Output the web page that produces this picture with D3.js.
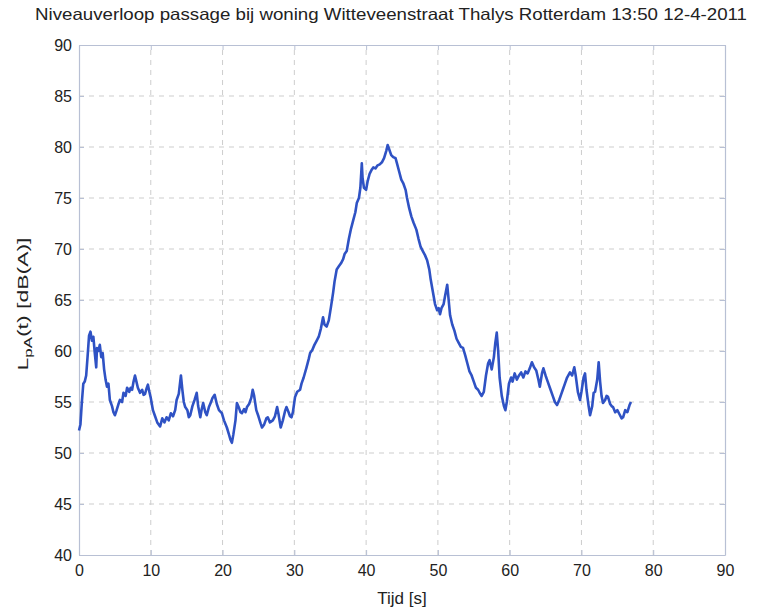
<!DOCTYPE html>
<html>
<head>
<meta charset="utf-8">
<script src="https://cdn.jsdelivr.net/npm/d3@7"></script>
<style>
  html, body { margin: 0; padding: 0; background: #fff; }
  svg { display: block; font-family: "Liberation Sans", Arial, sans-serif; }
</style>
</head>
<body>
<svg id="chart" width="760" height="610"></svg>
<script>
// Sound level during a Thalys pass-by, A-weighted, per time step
const timeS = [
  0.0,0.2,0.4,0.6,0.8,1.0,1.2,1.4,1.6,1.8,2.0,2.2,2.4,2.5,2.7,2.9,3.1,3.3,3.5,3.7,3.9,4.1,4.3,4.6,4.8,
  5.0,5.2,5.5,5.7,6.0,6.2,6.5,6.7,7.0,7.2,7.4,7.6,7.8,8.0,8.2,8.5,8.8,9.0,9.2,9.4,9.6,9.8,
  10.0,10.3,10.6,10.9,11.3,11.6,11.9,12.2,12.5,12.8,13.1,13.4,13.6,13.9,14.2,14.4,14.6,14.8,
  15.1,15.3,15.5,15.8,16.1,16.4,16.6,16.9,17.1,17.3,17.6,17.8,18.1,18.4,18.6,18.9,19.2,19.5,19.9,
  20.2,20.6,20.9,21.1,21.3,21.5,21.8,22.0,22.3,22.5,22.7,23.0,23.2,23.4,23.7,24.0,24.2,24.4,24.7,
  25.0,25.3,25.5,25.8,26.1,26.3,26.6,27.0,27.3,27.6,27.8,28.1,28.4,28.7,28.9,29.2,29.4,29.6,29.8,
  30.1,30.4,30.8,31.0,31.3,31.7,32.0,32.2,32.5,32.8,33.1,33.4,33.7,34.0,34.2,34.5,34.8,
  35.1,35.4,35.6,35.9,36.2,36.5,36.8,37.0,37.3,37.6,37.9,38.2,38.5,38.7,39.0,39.2,39.4,39.5,39.7,
  40.0,40.2,40.5,40.8,41.0,41.3,41.6,41.9,42.2,42.5,42.8,43.0,43.2,43.5,43.8,44.1,44.3,44.6,44.9,
  45.2,45.5,45.7,46.0,46.3,46.6,47.0,47.3,47.6,47.9,48.2,48.5,48.8,49.0,49.3,49.6,49.9,
  50.1,50.3,50.5,50.8,51.0,51.3,51.5,51.7,52.0,52.3,52.6,52.9,53.2,53.5,53.8,54.1,54.4,54.7,
  55.0,55.3,55.6,55.9,56.1,56.4,56.7,57.0,57.2,57.5,57.8,58.0,58.2,58.4,58.6,58.9,59.2,59.4,59.6,59.9,
  60.2,60.4,60.7,61.0,61.3,61.6,61.9,62.2,62.5,62.8,63.1,63.4,63.7,64.0,64.2,64.5,64.7,
  65.0,65.3,65.6,66.0,66.3,66.6,66.9,67.2,67.4,67.7,68.0,68.4,68.7,69.0,69.2,69.5,69.8,
  70.0,70.3,70.5,70.7,71.0,71.2,71.5,71.7,71.9,72.2,72.4,72.6,72.8,73.0,73.3,73.5,73.7,
  74.0,74.2,74.4,74.7,75.0,75.3,75.6,75.8,76.1,76.4,76.7,76.9
];
const levelDbA = [
  52.2,52.8,55.0,56.8,57.0,57.6,59.5,61.5,61.9,61.0,61.4,59.8,58.4,60.3,60.0,60.6,59.4,59.8,58.2,57.2,56.5,56.8,55.2,54.6,54.0,
  53.7,54.1,54.8,55.2,55.0,55.9,55.6,56.4,56.0,56.4,56.2,57.0,57.6,57.0,56.4,55.9,56.2,55.7,55.8,56.3,56.7,56.0,
  55.4,54.2,53.6,53.0,52.6,53.4,53.0,53.5,53.2,53.9,53.6,54.2,55.2,55.8,57.6,56.2,55.0,54.5,
  54.2,53.5,53.7,54.6,55.2,55.9,54.6,53.5,54.3,54.9,54.0,53.7,54.5,55.0,55.4,55.7,54.8,54.2,53.9,
  53.2,52.5,51.8,51.3,51.0,51.8,53.2,54.9,54.4,54.0,53.9,54.3,54.0,54.5,54.8,55.4,56.2,55.6,54.2,
  53.6,52.9,52.5,52.8,53.4,53.5,53.0,53.2,53.6,54.5,53.8,52.5,53.2,54.1,54.5,54.0,53.6,53.5,54.0,
  55.5,56.0,56.2,56.8,57.4,58.4,59.2,59.8,60.1,60.6,61.0,61.4,62.2,63.3,62.6,62.4,63.0,
  64.3,65.7,66.8,68.0,68.3,68.6,69.0,69.5,69.8,71.0,72.0,72.8,73.6,74.5,75.0,76.0,78.4,77.0,76.0,
  75.8,76.6,77.4,77.8,78.0,77.9,78.2,78.3,78.5,78.9,79.6,80.2,79.8,79.2,79.0,78.9,78.4,77.6,76.8,
  76.4,75.8,75.0,74.0,73.2,72.6,71.9,71.0,70.2,69.8,69.4,68.9,68.0,67.0,65.8,64.6,64.0,
  64.2,63.6,64.2,64.6,65.4,66.5,65.0,63.5,62.6,62.0,61.2,60.8,60.4,60.3,59.6,58.8,58.0,57.6,
  57.0,56.4,56.2,55.8,55.6,56.0,57.6,58.8,59.1,58.2,59.4,60.8,61.8,60.0,57.4,55.6,54.6,54.2,55.0,56.8,
  57.4,57.0,57.8,57.2,57.6,57.9,57.4,58.0,57.8,58.3,58.9,58.4,58.1,57.2,56.5,57.8,58.3,
  57.6,57.0,56.4,55.6,55.0,54.7,55.2,55.8,56.2,56.8,57.4,57.9,57.6,58.4,57.6,56.0,55.2,
  56.0,57.4,57.8,56.2,54.6,53.7,54.6,55.9,56.0,57.2,58.9,57.0,55.6,54.9,55.2,55.6,55.5,
  54.8,54.6,54.5,54.0,54.2,53.8,53.4,53.5,54.2,54.0,54.7,55.0
];
const xTicks = [0, 10, 20, 30, 40, 50, 60, 70, 80, 90];
const yTicks = [40, 45, 50, 55, 60, 65, 70, 75, 80, 85, 90];
const titleText = "Niveauverloop passage bij woning Witteveenstraat Thalys Rotterdam 13:50 12-4-2011";
const xLabel = "Tijd [s]";

const svg = d3.select("#chart");
const margin = { left: 79, right: 35, top: 45, bottom: 55 };
const W = 760, H = 610;
const x = d3.scaleLinear().domain([0, 90]).range([margin.left, W - margin.right]);
const y = d3.scaleLinear().domain([40, 90]).range([H - margin.bottom, margin.top]);

// grid lines
const grid = svg.append("g").attr("stroke", "#cdcdcd").attr("stroke-width", 1)
  .attr("stroke-dasharray", "5,5");
grid.selectAll("line.gx").data(xTicks.slice(1, -1)).join("line")
  .attr("x1", d => x(d)).attr("x2", d => x(d))
  .attr("y1", y(40)).attr("y2", y(90));
grid.selectAll("line.gy").data(yTicks.slice(1, -1)).join("line")
  .attr("y1", d => y(d)).attr("y2", d => y(d))
  .attr("x1", x(0)).attr("x2", x(90));

// axes (ticks point inward)
const axColor = "#b8c0d4";
const xAxis = svg.append("g").attr("transform", `translate(0,${y(40)})`)
  .call(d3.axisBottom(x).tickValues(xTicks).tickSizeInner(-5).tickSizeOuter(0).tickPadding(10));
const xAxisTop = svg.append("g").attr("transform", `translate(0,${y(90)})`)
  .call(d3.axisTop(x).tickValues(xTicks).tickSizeInner(-5).tickSizeOuter(0).tickFormat(""));
const yAxis = svg.append("g").attr("transform", `translate(${x(0)},0)`)
  .call(d3.axisLeft(y).tickValues(yTicks).tickSizeInner(-5).tickSizeOuter(0).tickPadding(7));
const yAxisRight = svg.append("g").attr("transform", `translate(${x(90)},0)`)
  .call(d3.axisRight(y).tickValues(yTicks).tickSizeInner(-5).tickSizeOuter(0).tickFormat(""));
[xAxis, xAxisTop, yAxis, yAxisRight].forEach(g => {
  g.select(".domain").attr("stroke", axColor).attr("stroke-width", 1.2);
  g.selectAll(".tick line").attr("stroke", axColor);
  g.selectAll(".tick text").attr("fill", "#222").attr("font-size", 16)
    .attr("font-family", "'Liberation Sans', Arial, sans-serif");
});

// level trace
const pts = timeS.map((t, i) => [t, levelDbA[i]]);
svg.append("path").datum(pts)
  .attr("fill", "none")
  .attr("stroke", "#2f52c4")
  .attr("stroke-width", 2.6)
  .attr("stroke-linejoin", "round")
  .attr("d", d3.line().x(d => x(d[0])).y(d => y(d[1])));

// title
svg.append("text")
  .attr("x", 391).attr("y", 20)
  .attr("text-anchor", "middle")
  .attr("font-size", 16.5)
  .attr("fill", "#222")
  .attr("textLength", 712)
  .attr("lengthAdjust", "spacingAndGlyphs")
  .text(titleText);

// x label
svg.append("text")
  .attr("x", 402).attr("y", 604)
  .attr("text-anchor", "middle")
  .attr("font-size", 17)
  .attr("fill", "#222")
  .text(xLabel);

// y label: L_pA(t) [dB(A)]
const yl = svg.append("text")
  .attr("transform", `translate(28,${(y(40) + y(90)) / 2 + 4}) rotate(-90)`)
  .attr("text-anchor", "middle")
  .attr("font-size", 15)
  .attr("fill", "#222")
  .attr("textLength", 133)
  .attr("lengthAdjust", "spacingAndGlyphs");
yl.append("tspan").text("L");
yl.append("tspan").attr("dy", 4).attr("font-size", 11).text("pA");
yl.append("tspan").attr("dy", -4).text("(t) [dB(A)]");
</script>
</body>
</html>
